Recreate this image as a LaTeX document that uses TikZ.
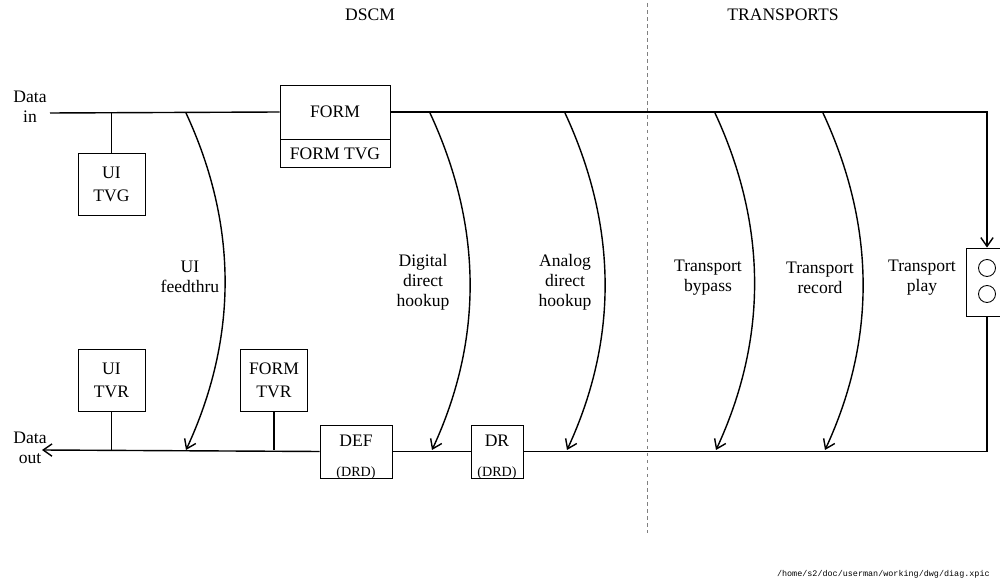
\documentclass[tikz,border=0pt]{standalone}
\usepackage{fontspec}
\setmainfont{Liberation Serif}
\newfontfamily\pathfont{Liberation Mono}
\usetikzlibrary{arrows.meta}
\tikzset{
	wire/.style={line width=0.8pt},
	unit/.style={draw, line width=0.5pt, inner sep=0pt, minimum width=13.4mm, minimum height=12.4mm, align=center, font=\fontsize{10}{13}\selectfont},
	note/.style={inner sep=0pt, align=center, font=\fontsize{10}{11.4}\selectfont},
	lamp/.style={draw, circle, line width=0.5pt, inner sep=0pt, minimum size=3.4mm},
	divider/.style={line width=0.4pt, gray, dash pattern=on 2pt off 2pt},
}
\begin{document}
\begin{tikzpicture}[x=0.2mm, y=-0.2mm, >={Straight Barb[length=5pt,width=7pt]}]
		\useasboundingbox (0,0) rectangle (1000,583);
		\node[note] (dscm) at (370,15) {DSCM};
		\node[note] (transports) at (783,15) {TRANSPORTS};
		\draw[divider] (647,3) -- (647,533);
		\node[note] (datain) at (30,107) {Data\\in};
		\node[note] (dataout) at (30,448) {Data\\out};
		\coordinate (inA) at (50,113);
		\coordinate (outA) at (42,450);
		\node[unit] (uitvg) at (111.5,184.5) {UI\\TVG};
		\node[unit, minimum width=22mm, minimum height=10.8mm] (form) at (335,112) {FORM};
		\node[unit, minimum width=22mm, minimum height=5.6mm, anchor=north] (formtvg) at (form.south) {FORM TVG};
		\node[unit] (uitvr) at (111.5,380) {UI\\TVR};
		\node[unit] (formtvr) at (274,380) {FORM\\TVR};
		\node[unit, minimum width=14.4mm, minimum height=10.6mm] (def) at (356,451.5) {};
		\node[note] (deftxt) at (356,441) {DEF};
		\node[note, font=\fontsize{8}{9}\selectfont] (defdrd) at (356,473) {(DRD)};
		\node[unit, minimum width=10.4mm, minimum height=10.6mm] (dr) at (497,451.5) {};
		\node[note] (drtxt) at (497,441) {DR};
		\node[note, font=\fontsize{8}{9}\selectfont] (drdrd) at (497,473) {(DRD)};
		\node[unit, minimum width=6.8mm, minimum height=13.6mm] (play) at (983,282) {};
		\node[lamp] (lampa) at (987,268) {};
		\node[lamp] (lampb) at (987,294) {};
		\draw[wire] (inA) -- (form.west);
		\draw[wire,->] (form.east) -| (lampa |- play.north);
		\draw[wire] (lampa |- play.south) |- (dr.east);
		\draw[wire] (dr.west) -- (def.east);
		\draw[wire,->] (def.west) -- (outA);
		\draw[wire] (uitvg.north) -- (uitvg.north |- inA);
		\draw[wire] (uitvr.south) -- (uitvr.south |- outA);
		\draw[wire] (formtvr.south) -- (formtvr.south |- outA);
		\coordinate (uiT) at (186,113);
		\coordinate (uiB) at (186,450);
		\coordinate (digT) at (430,113);
		\coordinate (digB) at (432,450);
		\coordinate (anaT) at (565,113);
		\coordinate (anaB) at (567,450);
		\coordinate (bypT) at (715,113);
		\coordinate (bypB) at (716,450);
		\coordinate (recT) at (823,113);
		\coordinate (recB) at (825,450);
		\draw[wire,->] (uiT) .. controls +(52,112) and +(52,-112) .. (uiB);
		\draw[wire,->] (digT) .. controls +(52,112) and +(52,-112) .. (digB);
		\draw[wire,->] (anaT) .. controls +(52,112) and +(52,-112) .. (anaB);
		\draw[wire,->] (bypT) .. controls +(52,112) and +(52,-112) .. (bypB);
		\draw[wire,->] (recT) .. controls +(52,112) and +(52,-112) .. (recB);
		\node[note] (uifeed) at (190,277) {UI\\feedthru};
		\node[note] (digital) at (423,282) {Digital\\direct\\hookup};
		\node[note] (analog) at (565,282) {Analog\\direct\\hookup};
		\node[note] (bypass) at (708,278) {Transport\\bypass};
		\node[note] (record) at (820,278) {Transport\\record};
		\node[note] (playtxt) at (922,278) {Transport\\play};
		\node[note, anchor=east, font=\pathfont\fontsize{4.8}{5}\selectfont] (path) at (990,574) {/home/s2/doc/userman/working/dwg/diag.xpic};
	    \end{tikzpicture}
\end{document}
